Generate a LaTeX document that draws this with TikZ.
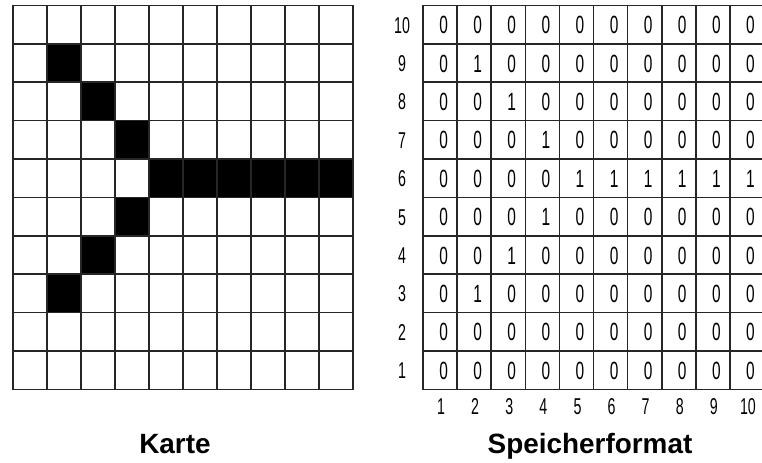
\documentclass[tikz,border=0pt]{standalone}
\usepackage{fontspec}
\setmainfont{Liberation Sans}
\newfontfamily\narrowfont[FakeStretch=0.62]{Liberation Sans}
\begin{document}
\begin{tikzpicture}[x=1bp,y=-1bp,
  gridline/.style={line width=1.6bp,black!85},
  cellnum/.style={font=\narrowfont\fontsize{25}{25}\selectfont,inner sep=0pt,anchor=base},
  axisnum/.style={font=\narrowfont\fontsize{23}{23}\selectfont,inner sep=0pt,anchor=base},
  caption/.style={font=\bfseries\fontsize{28}{28}\selectfont,inner sep=0pt,anchor=base}]
\useasboundingbox (0,0) rectangle (762,463);
\clip (0,0) rectangle (762,463);
\fill[white] (0,0) rectangle (762,463);
% left map: filled cells (col, row from top 1..10)
\foreach \c/\r in {2/2,3/3,4/4,5/5,6/5,7/5,8/5,9/5,10/5,4/6,3/7,2/8}{
  \fill[black] ({13+34*(\c-1)},{5.5+38.4*(\r-1)}) rectangle ({13+34*\c},{5.5+38.4*\r});
}
\foreach \i in {0,...,10}{
  \draw[gridline] ({13+34*\i},5.5) -- ({13+34*\i},389.5);
  \draw[gridline] (13,{5.5+38.4*\i}) -- (353,{5.5+38.4*\i});
}
% right grid
\foreach \i in {0,...,10}{
  \draw[gridline] ({423+34.1*\i},5.5) -- ({423+34.1*\i},389.5);
  \draw[gridline] (423,{5.5+38.4*\i}) -- (764,{5.5+38.4*\i});
}
\foreach \r in {1,...,10}{
  \pgfmathtruncatemacro{\lab}{11-\r}
  \node[axisnum] (rl\lab) at (402,{5.5+38.4*(\r-0.5)+8.5}) {\lab};
  \foreach \c in {1,...,10}{
    \pgfmathtruncatemacro{\v}{((\r>=2 && \r<=4 && \c==\r) || (\r>=6 && \r<=8 && \c==10-\r) || (\r==5 && \c>=5)) ? 1 : 0}
    \node[cellnum] (v\r-\c) at ({423+34.1*(\c-0.5)+3.5},{5.5+38.4*(\r-0.5)+9}) {\v};
  }
}
\foreach \c in {1,...,10}{
  \node[axisnum] (cl\c) at ({423+34.1*(\c-0.5)+1},414) {\c};
}
\node[caption] (karte) at (175,453) {Karte};
\node[caption] (speicher) at (590,453) {Speicherformat};
\end{tikzpicture}
\end{document}
